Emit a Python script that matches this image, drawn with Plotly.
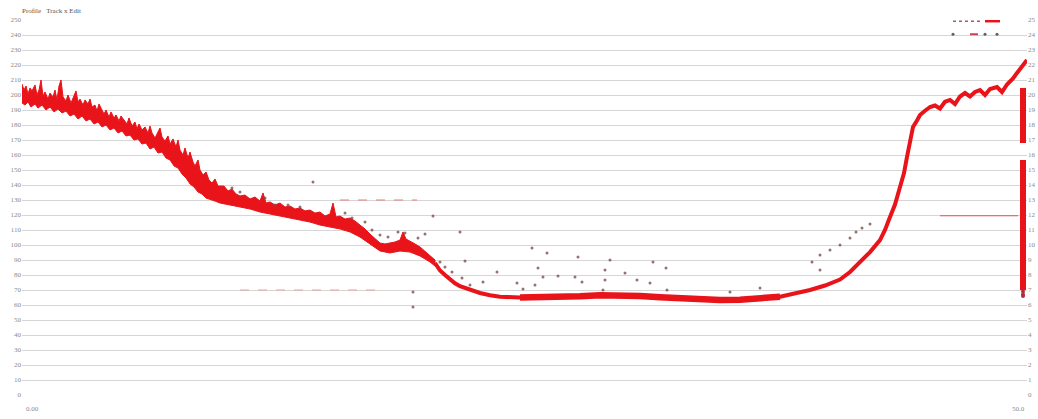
import plotly.graph_objects as go

# ---- noisy upper section of the profile: upper and lower envelope ----
band_top_dist = [
    0, 2, 4, 6, 8, 10, 13, 15, 17, 19, 21, 23, 26, 28, 31, 33, 35, 37, 39, 41,
    44, 46, 49, 51, 54, 56, 58, 61, 63, 66, 68, 70, 73, 75, 77, 79, 82, 84, 87,
    89, 92, 94, 97, 99, 102, 105, 107, 110, 113, 115, 117, 120, 123, 126, 128,
    130, 133, 136, 138, 140, 143, 146, 148, 151, 154, 156, 158, 161, 163, 166,
    168, 171, 173, 176, 178, 181, 184, 187, 190, 193, 196,
    202, 206, 210, 214, 218, 223, 228, 233, 238, 241, 244, 248, 253, 258, 263,
    268, 273, 278, 283, 288, 293, 298, 303, 308, 311, 314, 318, 323, 328, 333,
    338, 343, 348, 353, 358, 363, 368, 373, 378, 381, 384, 388, 393, 398, 403,
    408, 413,
]
band_top_elev = [
    207.3, 203.3, 206, 200.7, 204.7, 202.7, 206.7, 200, 203.3, 210, 199.3, 202,
    197.3, 201.3, 198.7, 203.3, 196.7, 206, 210, 198.7, 196, 200, 194.7, 198,
    202.7, 195.3, 197.3, 193.3, 196.7, 194, 197.3, 192, 193.3, 189.3, 194,
    191.3, 187.3, 190, 185.3, 188.7, 184.7, 186.7, 182.7, 186, 183.3, 180.7,
    184.7, 179.3, 182, 177.3, 180.7, 176.7, 178.7, 174.7, 179.3, 174.7, 171.3,
    176, 178, 172, 169.3, 172.7, 167.3, 170.7, 165.3, 170, 163.3, 160, 164.7,
    158, 162, 155.3, 152.7, 156.7, 150, 146.7, 148.7, 143.3, 141.3, 144, 139.3,
    139.3, 136, 137.3, 134, 132.7, 133.3, 130.7, 132, 129.3, 134.7, 128, 128.7,
    126.7, 128, 125.3, 126, 124, 124.7, 122.7, 123.3, 121.3, 122, 119.3, 120.7,
    128, 118.7, 119.3, 117.3, 118, 116, 113.3, 110.7, 107.3, 104, 101.3, 100.7,
    101.3, 102, 103.3, 108.7, 104, 102.7, 100.7, 98.7, 96, 93.3, 90,
]
band_bot_dist = [
    0, 3, 6, 9, 13, 16, 20, 24, 28, 32, 36, 40, 44, 48, 52, 56, 60, 64, 68, 72,
    76, 80, 84, 88, 92, 96, 100, 104, 108, 112, 116, 120, 124, 128, 132, 136,
    140, 144, 148, 152, 156, 160, 164, 168, 172, 176, 180, 184, 188, 193, 198,
    208, 218, 228, 238, 248, 258, 268, 278, 288, 298, 308, 318, 328, 338, 348,
    358, 368, 378, 388, 398, 408, 413,
]
band_bot_elev = [
    194.7, 193.3, 195.3, 192, 194, 191.3, 193.3, 190, 192, 188.7, 190.7, 188,
    189.3, 186, 187.3, 184, 186, 182.7, 184, 180.7, 182, 178.7, 180, 176.7,
    178, 174.7, 176, 172.7, 173.3, 170, 170.7, 167.3, 168, 164, 165.3, 161.3,
    162, 158, 156.7, 152.7, 151.3, 147.3, 144.7, 140.7, 138.7, 135.3, 134,
    131.3, 130.7, 129.3, 128,
    126.7, 125.3, 124, 122, 120.7, 119.3, 118, 116.7, 115.3, 113.3, 112, 110.7,
    108.7, 105.3, 100.7, 96, 94.7, 96, 95.3, 92.7, 88.7, 86,
]

# ---- smooth lower section of the profile ----
dist = [
    413, 418, 423, 428, 433, 438, 448, 458, 468, 478, 498, 518, 538, 558, 578,
    598, 618, 638, 658, 678, 698, 718, 738, 758, 773, 788, 803, 818, 828, 838,
    848, 858, 863, 868, 873, 878, 882, 885, 888, 891, 895, 898, 903, 908, 913,
    918, 923, 928, 933, 938, 943, 948, 953, 958, 963, 968, 975, 980, 985, 988,
    991, 995, 1000, 1005,
]
elev = [
    88, 83, 80, 77, 74.5, 72.5, 70, 68, 66.5, 65.5, 65, 65, 65.3, 65.8, 66.5,
    66.5, 66, 65.2, 64.3, 63.6, 63.3, 63.5, 64, 65.5, 67.5, 70, 73, 77, 82,
    88.7, 95.3, 103.3, 110, 118.7, 127, 138.7, 148, 158.7, 168, 178.7, 183,
    186.7, 189.5, 192, 193, 191, 195.5, 196.7, 194, 199, 201.3, 199, 202,
    203.3, 200, 204, 205.3, 202, 207, 208.7, 211, 214.7, 219, 223.3,
]
# the flat bottom carries the densest run of samples
trough_from, trough_to = 493, 760

# ---- stray survey points ----
pt_dist = [
    411, 438, 443, 510, 525, 556, 588, 631, 644, 475, 516, 536, 521, 553, 560,
    583, 583, 495, 513, 501, 615, 603, 628, 391, 391, 418, 423, 430, 440, 448,
    461, 645, 581, 291, 210, 218, 243, 253, 266, 278, 323, 330, 343, 350, 358,
    366, 376, 383, 396, 403, 708, 738, 790, 798, 808, 818, 828, 834, 840, 848,
    798,
]
pt_elev = [
    119.3, 108.7, 89.3, 98, 94.7, 92, 90, 88.7, 84.7, 82, 84.7, 79.3, 78.7,
    78.7, 75.3, 83.3, 76.7, 74.7, 73.3, 70.7, 76.7, 81.3, 74.7, 68.7, 58.7,
    88.7, 85.3, 82, 78, 73.3, 75.3, 70, 70, 142, 138, 135.3, 131.3, 126.7,
    126.7, 125.3, 121.3, 118, 115.3, 110, 106.7, 105.3, 108.7, 108, 104.7,
    107.3, 68.7, 71.3, 88.7, 93.3, 96.7, 100, 104.7, 108.7, 111.3, 114, 83.3,
]

# ---- end-of-track vertical scatter (two runs) ----
end_dist = 1001
end_run1 = [204.7, 168]
end_run2 = [156.7, 70]
end_cluster = [69, 67, 66]

# ---- reference levels ----
ref_a_dist, ref_a_elev = [318, 395], 130
ref_b_dist, ref_b_elev = [218, 358], 70
ref_c_dist, ref_c_elev = [918, 996], 119.5

# ---- marks along the top edge ----
top_red_dist = [963, 978]
top_dark_dist = [931, 958]
top_dots_dist = [931, 963, 975]
top_dots_red = [948, 956]

# ---- axes ----
y_ticks = list(range(0, 251, 10))
y_left_labels = [str(v) for v in y_ticks]
y_right_labels = [str(v // 10) for v in y_ticks]
x_tickvals = [10, 996]
x_ticktext = ["0.00", "50.0"]

RED = "#e8141a"
DOT = "#7a4d4d"
GRID = "#d6d6d6"
TXT = "#8a8a8a"

fig = go.Figure()

# reference levels
fig.add_trace(go.Scatter(x=ref_a_dist, y=[ref_a_elev] * 2, mode="lines",
                         line=dict(color="#e87a7a", width=1, dash="dash"),
                         hoverinfo="skip"))
fig.add_trace(go.Scatter(x=ref_b_dist, y=[ref_b_elev] * 2, mode="lines",
                         line=dict(color="#e8a0a0", width=1, dash="dash"),
                         hoverinfo="skip"))
fig.add_trace(go.Scatter(x=ref_c_dist, y=[ref_c_elev] * 2, mode="lines",
                         line=dict(color="#e85050", width=1),
                         hoverinfo="skip"))

# noisy section drawn as a filled envelope
fig.add_trace(go.Scatter(
    x=band_top_dist + band_bot_dist[::-1],
    y=band_top_elev + band_bot_elev[::-1],
    mode="lines", fill="toself", fillcolor=RED,
    line=dict(color=RED, width=1), hoverinfo="skip"))

# smooth section
fig.add_trace(go.Scatter(x=dist, y=elev, mode="lines",
                         line=dict(color=RED, width=4), name="Profile"))
tx = [d for d in dist if trough_from <= d <= trough_to]
ty = [e for d, e in zip(dist, elev) if trough_from <= d <= trough_to]
fig.add_trace(go.Scatter(x=tx, y=ty, mode="lines",
                         line=dict(color=RED, width=6.5), hoverinfo="skip"))

# stray points
fig.add_trace(go.Scatter(x=pt_dist, y=pt_elev, mode="markers",
                         marker=dict(color=DOT, size=3, opacity=0.8),
                         hoverinfo="skip"))

# end-of-track vertical runs
fig.add_trace(go.Scatter(x=[end_dist] * 2, y=end_run1, mode="lines",
                         line=dict(color=RED, width=6), hoverinfo="skip"))
fig.add_trace(go.Scatter(x=[end_dist] * 2, y=end_run2, mode="lines",
                         line=dict(color=RED, width=6), hoverinfo="skip"))
fig.add_trace(go.Scatter(x=[end_dist] * len(end_cluster), y=end_cluster,
                         mode="markers",
                         marker=dict(color="#b03040", size=4),
                         hoverinfo="skip"))

# top edge marks
fig.add_trace(go.Scatter(x=top_red_dist, y=[249.2] * 2, mode="lines",
                         line=dict(color=RED, width=2.5), hoverinfo="skip"))
fig.add_trace(go.Scatter(x=top_dark_dist, y=[249.2] * 2, mode="lines",
                         line=dict(color="#a06060", width=1.5, dash="dot"),
                         hoverinfo="skip"))
fig.add_trace(go.Scatter(x=top_dots_dist, y=[240.5] * 3, mode="markers",
                         marker=dict(color="#606060", size=3),
                         hoverinfo="skip"))
fig.add_trace(go.Scatter(x=top_dots_red, y=[240.5] * 2, mode="lines",
                         line=dict(color="#d04050", width=2),
                         hoverinfo="skip"))

# invisible trace to carry the right-hand axis
fig.add_trace(go.Scatter(x=[0], y=[0], yaxis="y2", mode="markers",
                         marker=dict(opacity=0), hoverinfo="skip"))

fig.update_layout(
    width=1038, height=419,
    margin=dict(l=22, r=11, t=20, b=24, autoexpand=False),
    paper_bgcolor="white", plot_bgcolor="white",
    showlegend=False,
    font=dict(family="Liberation Serif", size=7, color=TXT),
    title=dict(text="Profile   Track x Edit", x=0, xref="paper",
               xanchor="left", y=1, yref="container", yanchor="top",
               pad=dict(t=8, l=0),
               font=dict(size=7, color="#555555", family="Liberation Serif")),
    xaxis=dict(range=[0, 1005], showgrid=False, zeroline=False,
               showline=False, tickvals=x_tickvals, ticktext=x_ticktext,
               ticks="", ticklabelstandoff=8, automargin=False,
               tickfont=dict(size=7, color=TXT)),
    yaxis=dict(range=[0, 250], tickvals=y_ticks, ticktext=y_left_labels,
               showgrid=True, gridcolor=GRID, gridwidth=1, zeroline=False,
               showline=False, ticks="", automargin=False,
               tickfont=dict(size=7, color=TXT)),
    yaxis2=dict(range=[0, 250], overlaying="y", side="right",
                tickvals=y_ticks, ticktext=y_right_labels, showgrid=False,
                zeroline=False, showline=False, ticks="", automargin=False,
                tickfont=dict(size=7, color=TXT)),
)

fig.write_html("out.html")
